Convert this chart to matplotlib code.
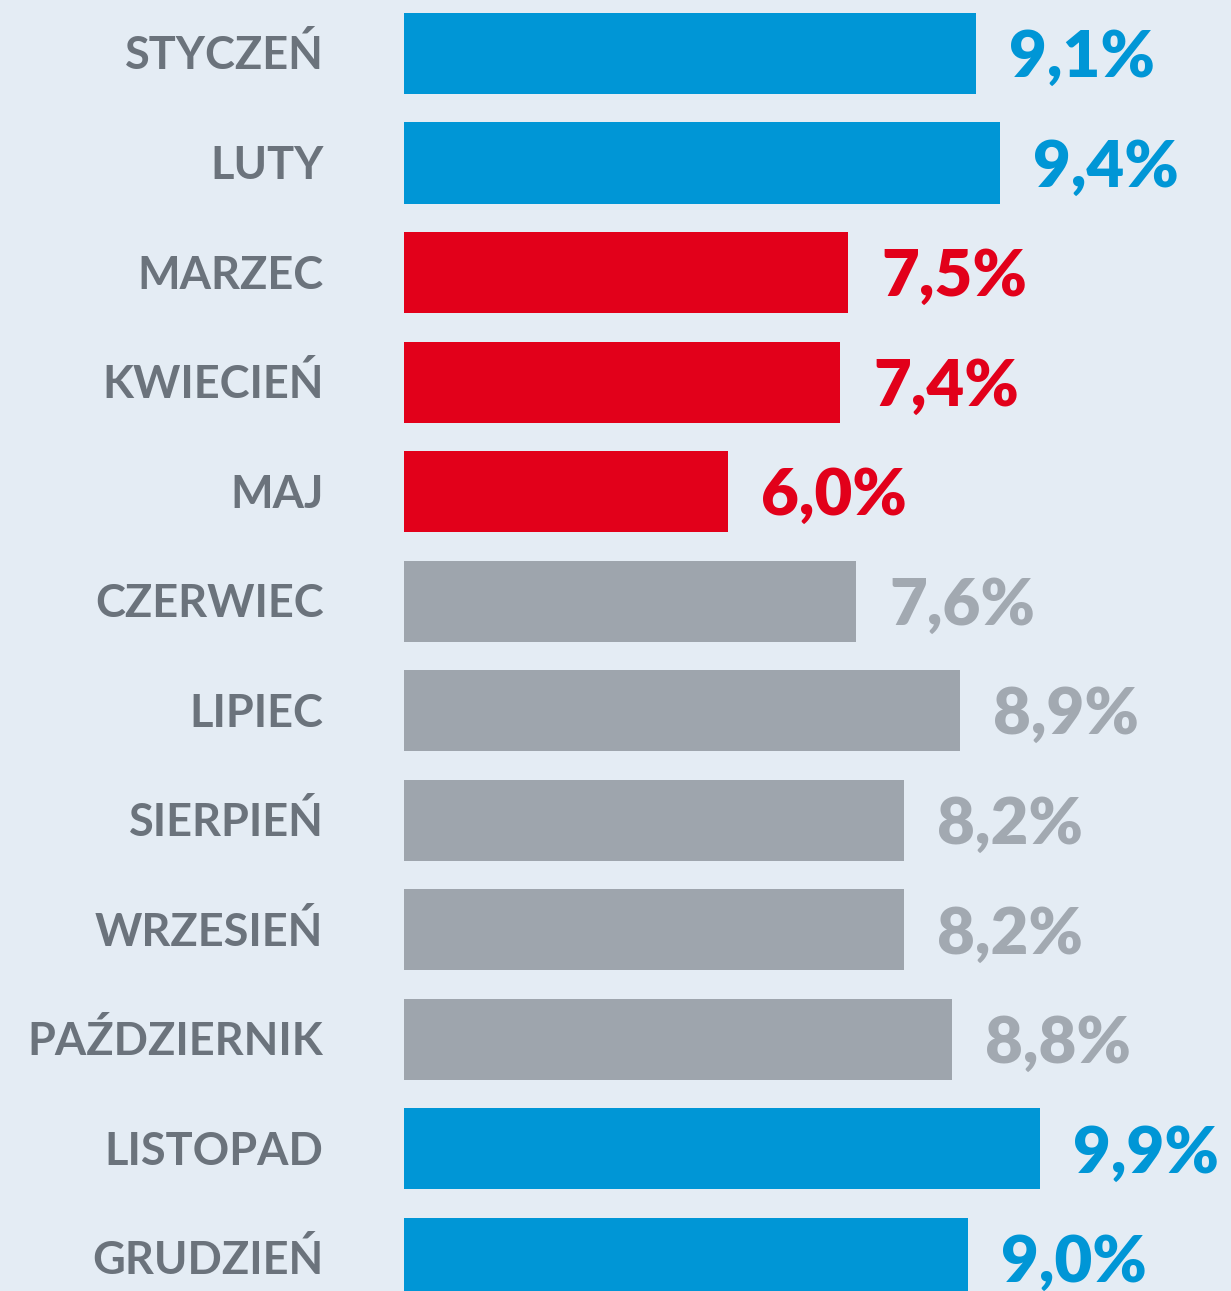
import matplotlib
matplotlib.use('Agg')
import matplotlib.pyplot as plt
import numpy as np

# Data
months = ['STYCZEŃ', 'LUTY', 'MARZEC', 'KWIECIEŃ', 'MAJ', 'CZERWIEC',
          'LIPIEC', 'SIERPIEŃ', 'WRZESIEŃ', 'PAŹDZIERNIK', 'LISTOPAD', 'GRUDZIEŃ']
values = [9.1, 9.4, 7.5, 7.4, 6.0, 7.6, 8.9, 8.2, 8.2, 8.8, 9.9, 9.0]
groups = ['blue', 'blue', 'red', 'red', 'red', 'gray',
          'gray', 'gray', 'gray', 'gray', 'blue', 'blue']

bg = '#E4ECF4'
bar_colors = {'blue': '#0096D6', 'red': '#E2001A', 'gray': '#9EA5AD'}
text_colors = {'blue': '#0096D6', 'red': '#E2001A', 'gray': '#A2A9B1'}
label_color = '#6B737C'

plt.rcParams['font.family'] = ['Lato', 'DejaVu Sans']

fig = plt.figure(figsize=(12.31, 12.91), dpi=100, facecolor=bg)
# axes starts where the bars start
ax = fig.add_axes([404 / 1231, 0, 827 / 1231, 1])
ax.set_facecolor(bg)

y = np.arange(len(months))
ax.barh(y, values, height=0.74, color=[bar_colors[g] for g in groups])

ax.set_xlim(1.95, 12.29)
ax.set_ylim(11.297, -0.488)
ax.axis('off')

for i, (m, v, g) in enumerate(zip(months, values, groups)):
    # month label, right aligned left of the bars
    ax.annotate(m, xy=(0, i), xycoords=('axes fraction', 'data'),
                xytext=(-58, -11.5), textcoords='offset points',
                ha='right', va='baseline', fontsize=32.5, fontweight='bold',
                color=label_color, annotation_clip=False)
    # value label
    ax.annotate(f'{v:.1f}%'.replace('.', ','), xy=(v, i),
                xytext=(24, -17), textcoords='offset points',
                ha='left', va='baseline', fontsize=47, fontweight='heavy',
                color=text_colors[g], annotation_clip=False)

fig.savefig('out.png', dpi=100, facecolor=bg)
plt.close(fig)
